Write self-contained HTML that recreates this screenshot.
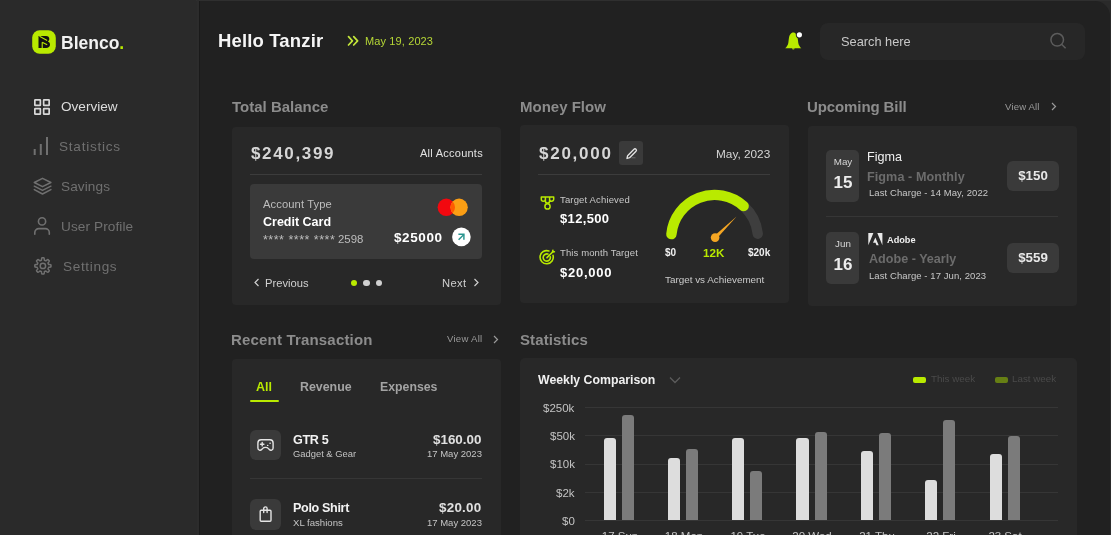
<!DOCTYPE html>
<html><head><meta charset="utf-8"><style>
*{margin:0;padding:0;box-sizing:border-box}
html,body{width:1111px;height:535px;overflow:hidden;background:#2a2a2a;font-family:"Liberation Sans",sans-serif}
.t{position:absolute;line-height:1;white-space:nowrap;will-change:transform}
.r{position:absolute}
.s{position:absolute;overflow:visible}
</style></head><body>
<div class="r" style="left:196px;top:0px;width:915px;height:1.2px;background:#2f2f2f;border-radius:0px;"></div>
<div class="r" style="left:197px;top:0px;width:2px;height:535px;background:#2c2c2c;border-radius:0px;"></div>
<div class="r" style="left:199px;top:1.2px;width:911px;height:540px;background:#212121;border-radius:0px;border-top-right-radius:15px;border-left:1px solid #1a1a1a;box-sizing:border-box"></div>
<svg class="s" style="left:32px;top:30px" width="24" height="24" viewBox="0 0 24 24"><rect x=".2" y=".2" width="23.6" height="23.6" rx="7.5" fill="#b9ea00"/><path d="M6.5 6H14C16.3 6 17.3 7.3 17.3 9C17.3 10.2 16.7 11 15.8 11.4C17.1 11.8 18 12.9 18 14.5C18 16.6 16.5 18 14 18H6.5Z" fill="#121212"/><path d="M7.5 6.3L15.2 10.6M10.2 12.2L15.2 14.8M10.2 12.2V18" stroke="#b9ea00" stroke-width="1.1" fill="none"/></svg>
<div class="t" style="left:61.00px;top:35.00px;font-size:17.5px;color:#f2f2f2;font-weight:700;">Blenco<span style="color:#b9ea00">.</span></div>
<svg class="s" style="left:34px;top:99px" width="16" height="16" viewBox="0 0 16 16"><rect x="0.85" y="0.85" width="5.5" height="5.5" rx="0.4" fill="none" stroke="#d8d8d8" stroke-width="1.7"/><rect x="0.85" y="9.65" width="5.5" height="5.5" rx="0.4" fill="none" stroke="#d8d8d8" stroke-width="1.7"/><rect x="9.65" y="0.85" width="5.5" height="5.5" rx="0.4" fill="none" stroke="#d8d8d8" stroke-width="1.7"/><rect x="9.65" y="9.65" width="5.5" height="5.5" rx="0.4" fill="none" stroke="#d8d8d8" stroke-width="1.7"/></svg>
<div class="t" style="left:61.30px;top:100.00px;font-size:13.6px;color:#dcdcdc;font-weight:400;">Overview</div>
<svg class="s" style="left:33px;top:136px" width="16" height="20" viewBox="0 0 16 20"><path d="M1.7 13v6M7.8 8v11M14 1v18" stroke="#707070" stroke-width="2" stroke-linecap="butt" fill="none"/></svg>
<div class="t" style="left:58.80px;top:140.00px;font-size:13.6px;color:#707070;font-weight:400;letter-spacing:0.75px;">Statistics</div>
<svg class="s" style="left:33px;top:177px" width="19" height="19" viewBox="0 0 19 19"><g fill="none" stroke="#707070" stroke-width="1.5" stroke-linejoin="round" stroke-linecap="round"><path d="M9.5 1.3L17.9 5.5 9.5 9.7 1.3 5.5z"/><path d="M1.3 9.2l8.2 4.2 8.4-4.2"/><path d="M1.3 12.6l8.2 4.4 8.4-4.4"/></g></svg>
<div class="t" style="left:61.40px;top:180.00px;font-size:13.6px;color:#707070;font-weight:400;letter-spacing:0.1px;">Savings</div>
<svg class="s" style="left:33px;top:216px" width="18" height="20" viewBox="0 0 18 20"><g fill="none" stroke="#707070" stroke-width="1.6" stroke-linecap="round"><circle cx="9.05" cy="5.4" r="3.6"/><path d="M1.8 18.3V16.6a4 4 0 0 1 4-4h6.5a4 4 0 0 1 4 4V18.3"/></g></svg>
<div class="t" style="left:60.70px;top:220.00px;font-size:13.6px;color:#707070;font-weight:400;letter-spacing:0.1px;">User Profile</div>
<svg class="s" style="left:33px;top:256px" width="20" height="20" viewBox="0 0 20 20"><g fill="none" stroke="#707070" stroke-width="1.5" stroke-linejoin="round"><path d="M9.90 1.80 L10.15 1.80 L10.41 1.82 L10.66 1.84 L10.92 1.86 L11.11 2.26 L11.23 2.92 L11.31 3.58 L11.36 4.21 L11.52 4.33 L11.69 4.38 L11.86 4.44 L12.04 4.51 L12.20 4.58 L12.37 4.65 L12.53 4.73 L12.69 4.82 L12.89 4.85 L13.37 4.43 L13.90 4.02 L14.44 3.64 L14.86 3.50 L15.06 3.66 L15.26 3.82 L15.44 4.00 L15.63 4.17 L15.80 4.36 L15.98 4.54 L16.14 4.74 L16.30 4.94 L16.16 5.36 L15.78 5.90 L15.37 6.43 L14.95 6.91 L14.98 7.11 L15.07 7.27 L15.15 7.43 L15.22 7.60 L15.29 7.76 L15.36 7.94 L15.42 8.11 L15.47 8.28 L15.59 8.44 L16.22 8.49 L16.88 8.57 L17.54 8.69 L17.94 8.88 L17.96 9.14 L17.98 9.39 L18.00 9.65 L18.00 9.90 L18.00 10.15 L17.98 10.41 L17.96 10.66 L17.94 10.92 L17.54 11.11 L16.88 11.23 L16.22 11.31 L15.59 11.36 L15.47 11.52 L15.42 11.69 L15.36 11.86 L15.29 12.04 L15.22 12.20 L15.15 12.37 L15.07 12.53 L14.98 12.69 L14.95 12.89 L15.37 13.37 L15.78 13.90 L16.16 14.44 L16.30 14.86 L16.14 15.06 L15.98 15.26 L15.80 15.44 L15.63 15.63 L15.44 15.80 L15.26 15.98 L15.06 16.14 L14.86 16.30 L14.44 16.16 L13.90 15.78 L13.37 15.37 L12.89 14.95 L12.69 14.98 L12.53 15.07 L12.37 15.15 L12.20 15.22 L12.04 15.29 L11.86 15.36 L11.69 15.42 L11.52 15.47 L11.36 15.59 L11.31 16.22 L11.23 16.88 L11.11 17.54 L10.92 17.94 L10.66 17.96 L10.41 17.98 L10.15 18.00 L9.90 18.00 L9.65 18.00 L9.39 17.98 L9.14 17.96 L8.88 17.94 L8.69 17.54 L8.57 16.88 L8.49 16.22 L8.44 15.59 L8.28 15.47 L8.11 15.42 L7.94 15.36 L7.76 15.29 L7.60 15.22 L7.43 15.15 L7.27 15.07 L7.11 14.98 L6.91 14.95 L6.43 15.37 L5.90 15.78 L5.36 16.16 L4.94 16.30 L4.74 16.14 L4.54 15.98 L4.36 15.80 L4.17 15.63 L4.00 15.44 L3.82 15.26 L3.66 15.06 L3.50 14.86 L3.64 14.44 L4.02 13.90 L4.43 13.37 L4.85 12.89 L4.82 12.69 L4.73 12.53 L4.65 12.37 L4.58 12.20 L4.51 12.04 L4.44 11.86 L4.38 11.69 L4.33 11.52 L4.21 11.36 L3.58 11.31 L2.92 11.23 L2.26 11.11 L1.86 10.92 L1.84 10.66 L1.82 10.41 L1.80 10.15 L1.80 9.90 L1.80 9.65 L1.82 9.39 L1.84 9.14 L1.86 8.88 L2.26 8.69 L2.92 8.57 L3.58 8.49 L4.21 8.44 L4.33 8.28 L4.38 8.11 L4.44 7.94 L4.51 7.76 L4.58 7.60 L4.65 7.43 L4.73 7.27 L4.82 7.11 L4.85 6.91 L4.43 6.43 L4.02 5.90 L3.64 5.36 L3.50 4.94 L3.66 4.74 L3.82 4.54 L4.00 4.36 L4.17 4.17 L4.36 4.00 L4.54 3.82 L4.74 3.66 L4.94 3.50 L5.36 3.64 L5.90 4.02 L6.43 4.43 L6.91 4.85 L7.11 4.82 L7.27 4.73 L7.43 4.65 L7.60 4.58 L7.76 4.51 L7.94 4.44 L8.11 4.38 L8.28 4.33 L8.44 4.21 L8.49 3.58 L8.57 2.92 L8.69 2.26 L8.88 1.86 L9.14 1.84 L9.39 1.82 L9.65 1.80Z"/><circle cx="9.9" cy="9.9" r="2.7"/></g></svg>
<div class="t" style="left:62.90px;top:260.00px;font-size:13.6px;color:#707070;font-weight:400;letter-spacing:0.65px;">Settings</div>
<div class="t" style="left:217.50px;top:32.00px;font-size:18.5px;color:#f5f5f5;font-weight:700;letter-spacing:0.15px;">Hello Tanzir</div>
<svg class="s" style="left:347px;top:35px" width="13" height="12" viewBox="0 0 13 12"><g fill="none" stroke="#c3e63a" stroke-width="1.7" stroke-linecap="round" stroke-linejoin="round"><path d="M1.5 1.6L5.4 5.8 1.5 10"/><path d="M6.7 1.6L10.6 5.8 6.7 10"/></g></svg>
<div class="t" style="left:364.60px;top:36.00px;font-size:11px;color:#b5d636;font-weight:400;letter-spacing:0.12px;">May 19, 2023</div>
<svg class="s" style="left:784px;top:30px" width="20" height="20" viewBox="0 0 20 20"><path d="M9.3 2.4C7 2.4 5.3 4.8 4.9 8.3L4.3 13C4 15.1 2.7 16.8 1.2 18.3H17.3C15.8 16.8 14.6 15.1 14.3 13L13.7 8.3C13.3 4.8 11.6 2.4 9.3 2.4Z" fill="#b9ea00"/><path d="M8 18.3a1.3 1.3 0 0 0 2.6 0z" fill="#b9ea00"/><circle cx="15.4" cy="4.8" r="3.6" fill="#212121"/><circle cx="15.4" cy="4.8" r="2.6" fill="#fff"/></svg>
<div class="r" style="left:820px;top:23px;width:265px;height:36.5px;background:#272727;border-radius:8px;"></div>
<div class="t" style="left:841.00px;top:36.00px;font-size:12.8px;color:#c8c8c8;font-weight:400;">Search here</div>
<svg class="s" style="left:1048px;top:31px" width="20" height="20" viewBox="0 0 20 20"><g fill="none" stroke="#5c5c5c" stroke-width="1.5"><circle cx="9.2" cy="8.8" r="6.3"/><path d="M13.8 13.5l3.8 3.8"/></g></svg>
<div class="t" style="left:232.00px;top:99.00px;font-size:15px;color:#8c8c8c;font-weight:700;">Total Balance</div>
<div class="t" style="left:520.00px;top:99.00px;font-size:15px;color:#8c8c8c;font-weight:700;">Money Flow</div>
<div class="t" style="left:807.00px;top:99.00px;font-size:15px;color:#8c8c8c;font-weight:700;letter-spacing:-0.1px;">Upcoming Bill</div>
<div class="t" style="right:71.00px;top:102.00px;font-size:9.6px;color:#9a9a9a;font-weight:400;letter-spacing:0.15px;">View All</div>
<svg class="s" style="left:1050px;top:102px" width="8" height="9" viewBox="0 0 8 9"><path d="M2 1l3.5 3.5L2 8" fill="none" stroke="#9a9a9a" stroke-width="1.2"/></svg>
<div class="t" style="left:231.00px;top:332.00px;font-size:15px;color:#8c8c8c;font-weight:700;letter-spacing:0.18px;">Recent Transaction</div>
<div class="t" style="right:629.00px;top:334.00px;font-size:9.6px;color:#9a9a9a;font-weight:400;letter-spacing:0.25px;">View All</div>
<svg class="s" style="left:491.5px;top:335px" width="8" height="9" viewBox="0 0 8 9"><path d="M2 1l3.5 3.5L2 8" fill="none" stroke="#9a9a9a" stroke-width="1.2"/></svg>
<div class="t" style="left:520.00px;top:332.00px;font-size:15px;color:#8c8c8c;font-weight:700;letter-spacing:0.12px;">Statistics</div>
<div class="r" style="left:232px;top:126.5px;width:269px;height:178.5px;background:#282828;border-radius:4px;"></div>
<div class="r" style="left:520px;top:125.2px;width:269px;height:178px;background:#282828;border-radius:4px;"></div>
<div class="r" style="left:808px;top:125.5px;width:269px;height:180px;background:#282828;border-radius:4px;"></div>
<div class="r" style="left:232px;top:358.8px;width:269px;height:200px;background:#282828;border-radius:4px;"></div>
<div class="r" style="left:520px;top:358.2px;width:557px;height:200px;background:#282828;border-radius:5px;"></div>
<div class="t" style="left:250.50px;top:145.00px;font-size:17px;color:#d6d6d6;font-weight:700;letter-spacing:1.65px;">$240,399</div>
<div class="t" style="right:628.50px;top:148.00px;font-size:11px;color:#e2e2e2;font-weight:400;letter-spacing:0.25px;">All Accounts</div>
<div class="r" style="left:250px;top:174px;width:232px;height:1px;background:#3c3c3c;border-radius:0px;"></div>
<div class="r" style="left:250px;top:184px;width:232px;height:75px;background:#3a3a3a;border-radius:4px;"></div>
<div class="t" style="left:262.80px;top:199.00px;font-size:11.2px;color:#bdbdbd;font-weight:400;letter-spacing:0.1px;">Account Type</div>
<div class="t" style="left:262.80px;top:216.00px;font-size:12.5px;color:#ffffff;font-weight:700;">Credit Card</div>
<div class="t" style="left:262.80px;top:234.00px;font-size:12.5px;color:#bdbdbd;font-weight:400;letter-spacing:0.5px;">**** **** ****</div>
<div class="t" style="left:338.40px;top:234.00px;font-size:11.4px;color:#bdbdbd;font-weight:400;">2598</div>
<svg class="s" style="left:436px;top:197px" width="34" height="20" viewBox="0 0 34 20"><circle cx="10.3" cy="10.3" r="8.7" fill="#f2080f"/><circle cx="23.1" cy="10.3" r="8.7" fill="#fb9e14"/><path d="M16.7 4.4a8.7 8.7 0 0 1 0 11.8a8.7 8.7 0 0 1 0-11.8z" fill="#ff5a00"/></svg>
<div class="t" style="right:668.50px;top:231.00px;font-size:13.5px;color:#ffffff;font-weight:700;letter-spacing:0.6px;">$25000</div>
<svg class="s" style="left:451px;top:227px" width="21" height="21" viewBox="0 0 21 21"><circle cx="10.4" cy="9.9" r="9.3" fill="#fff"/><g fill="none" stroke="#2a958f" stroke-width="1.45" stroke-linecap="butt" stroke-linejoin="miter"><path d="M7.6 12.7L12.9 7.4"/><path d="M7.4 7.3H12.9V12.8"/></g></svg>
<svg class="s" style="left:253px;top:277px" width="8" height="12" viewBox="0 0 8 12"><path d="M5.5 2L2 5.5 5.5 9" fill="none" stroke="#cfcfcf" stroke-width="1.2"/></svg>
<div class="t" style="left:264.60px;top:278.00px;font-size:11.2px;color:#d0d0d0;font-weight:400;">Previous</div>
<div class="r" style="left:350.8px;top:279.6px;width:6.6px;height:6.6px;border-radius:50%;background:#b9ea00"></div>
<div class="r" style="left:363.2px;top:279.6px;width:6.6px;height:6.6px;border-radius:50%;background:#d0d0d0"></div>
<div class="r" style="left:375.6px;top:279.6px;width:6.6px;height:6.6px;border-radius:50%;background:#d0d0d0"></div>
<div class="t" style="right:645.00px;top:278.00px;font-size:11.2px;color:#d0d0d0;font-weight:400;letter-spacing:0.35px;">Next</div>
<svg class="s" style="left:472px;top:277px" width="8" height="12" viewBox="0 0 8 12"><path d="M2.5 2L6 5.5 2.5 9" fill="none" stroke="#cfcfcf" stroke-width="1.2"/></svg>
<div class="t" style="left:538.60px;top:145.00px;font-size:17px;color:#d6d6d6;font-weight:700;letter-spacing:1.75px;">$20,000</div>
<div class="r" style="left:619px;top:141px;width:24px;height:24px;background:#3a3a3a;border-radius:3px;"></div>
<svg class="s" style="left:618.5px;top:141.8px" width="24" height="24" viewBox="0 0 24 24"><g fill="none" stroke="#e6e6e6" stroke-width="1.3" stroke-linejoin="round"><path d="M8 16.5l.6-2.8 6.4-6.4a1.4 1.4 0 0 1 2 2l-6.4 6.4z"/><path d="M12.5 15.8h4" stroke="#6a6a6a" stroke-width="1"/></g></svg>
<div class="t" style="right:340.50px;top:149.00px;font-size:11.8px;color:#d4d4d4;font-weight:400;">May, 2023</div>
<div class="r" style="left:538px;top:174px;width:232px;height:1px;background:#3c3c3c;border-radius:0px;"></div>
<svg class="s" style="left:539px;top:194px" width="17" height="17" viewBox="0 0 17 17"><g fill="none" stroke="#b9ea00" stroke-width="1.5" stroke-linejoin="round" stroke-linecap="round"><path d="M2.3 3H14.7M2.3 3V5.2A2.05 2.05 0 0 0 6.4 5.2V3M6.4 3V7A2.1 2.1 0 0 0 10.6 7V3M10.6 3V5.2A2.05 2.05 0 0 0 14.7 5.2V3"/><circle cx="8.5" cy="12.4" r="2.6"/></g></svg>
<div class="t" style="left:559.90px;top:195.00px;font-size:9.5px;color:#c8c8c8;font-weight:400;letter-spacing:0.15px;">Target Achieved</div>
<div class="t" style="left:559.90px;top:212.00px;font-size:13px;color:#ffffff;font-weight:700;letter-spacing:0.35px;">$12,500</div>
<svg class="s" style="left:539px;top:249px" width="17" height="16" viewBox="0 0 17 16"><g fill="none" stroke="#b9ea00" stroke-width="1.6" stroke-linecap="round"><path d="M14 6.4A6.6 6.6 0 1 1 9.9 2.0"/><path d="M11.3 7.8A3.6 3.6 0 1 1 8.9 5.1"/><path d="M8 8.6L13.6 3"/><path d="M13.6 3l.3-1.8M13.6 3l1.8-.3"/></g></svg>
<div class="t" style="left:559.90px;top:248.00px;font-size:9.5px;color:#c8c8c8;font-weight:400;letter-spacing:0.12px;">This month Target</div>
<div class="t" style="left:559.90px;top:266.00px;font-size:13px;color:#ffffff;font-weight:700;letter-spacing:0.75px;">$20,000</div>
<svg class="s" style="left:660px;top:185px" width="115" height="60" viewBox="0 0 115 60"><path d="M83.64 21.05 A43.4 43.4 0 0 1 97.76 48.76" fill="none" stroke="#3e3e3e" stroke-width="10.4" stroke-linecap="round"/><path d="M11.40 49.14 A43.4 43.4 0 0 1 83.64 21.05" fill="none" stroke="#b9ea00" stroke-width="10.4" stroke-linecap="round"/><path d="M56.36 53.88 L76.60 31.50 L53.84 51.32z" fill="#f5a623"/><circle cx="55.10" cy="52.60" r="4.3" fill="#f5a623"/></svg>
<div class="t" style="left:664.70px;top:248.00px;font-size:10px;color:#f0f0f0;font-weight:700;">$0</div>
<div class="t" style="left:702.70px;top:247.00px;font-size:11.6px;color:#b9ea00;font-weight:700;">12K</div>
<div class="t" style="right:340.50px;top:248.00px;font-size:10px;color:#f0f0f0;font-weight:700;">$20k</div>
<div class="t" style="left:665.30px;top:275.00px;font-size:9.9px;color:#cccccc;font-weight:400;">Target vs Achievement</div>
<div class="r" style="left:826px;top:150px;width:33px;height:51.5px;background:#3a3a3a;border-radius:5px;"></div>
<div class="t" style="left:842.50px;top:157.00px;font-size:9.8px;color:#d6d6d6;font-weight:400;transform:translateX(-50%)">May</div>
<div class="t" style="left:842.50px;top:174.00px;font-size:17px;color:#ececec;font-weight:700;transform:translateX(-50%)">15</div>
<div class="r" style="left:1007px;top:160.5px;width:51.5px;height:30.5px;background:#3a3a3a;border-radius:6px;"></div>
<div class="t" style="left:1032.70px;top:169.00px;font-size:13.3px;color:#e8e8e8;font-weight:700;transform:translateX(-50%)">$150</div>
<div class="r" style="left:826px;top:232px;width:33px;height:51.5px;background:#3a3a3a;border-radius:5px;"></div>
<div class="t" style="left:842.50px;top:239.00px;font-size:9.8px;color:#d6d6d6;font-weight:400;transform:translateX(-50%)">Jun</div>
<div class="t" style="left:842.50px;top:256.00px;font-size:17px;color:#ececec;font-weight:700;transform:translateX(-50%)">16</div>
<div class="r" style="left:1007px;top:242.8px;width:51.5px;height:30.5px;background:#3a3a3a;border-radius:6px;"></div>
<div class="t" style="left:1032.70px;top:251.00px;font-size:13.3px;color:#e8e8e8;font-weight:700;transform:translateX(-50%)">$559</div>
<div class="t" style="left:867.40px;top:151.00px;font-size:12.6px;color:#f0f0f0;font-weight:400;">Figma</div>
<div class="t" style="left:867.30px;top:171.00px;font-size:12.6px;color:#6c6c6c;font-weight:700;letter-spacing:0.08px;">Figma - Monthly</div>
<div class="t" style="left:868.60px;top:188.00px;font-size:9.5px;color:#c8c8c8;font-weight:400;letter-spacing:0.08px;">Last Charge - 14 May, 2022</div>
<div class="r" style="left:826px;top:216px;width:232px;height:1px;background:#363636;border-radius:0px;"></div>
<svg class="s" style="left:868px;top:233.3px" width="15" height="13" viewBox="0 0 15 13"><path d="M0.3 0H5.4L0.3 12.2z M9.3 0h5.1v12.2z" fill="#e8e8e8"/><path d="M7.35 4.4L10.7 12.2H8.5L7.5 9.7H5z" fill="#e8e8e8"/></svg>
<div class="t" style="left:886.60px;top:236.00px;font-size:9.2px;color:#f0f0f0;font-weight:700;">Adobe</div>
<div class="t" style="left:868.60px;top:253.00px;font-size:12.6px;color:#6c6c6c;font-weight:700;">Adobe - Yearly</div>
<div class="t" style="left:868.60px;top:271.00px;font-size:9.5px;color:#c8c8c8;font-weight:400;letter-spacing:0.08px;">Last Charge - 17 Jun, 2023</div>
<div class="t" style="left:256.40px;top:381.00px;font-size:12.5px;color:#b9ea00;font-weight:700;">All</div>
<div class="r" style="left:249.8px;top:399.6px;width:29px;height:2.4px;background:#b9ea00;border-radius:1px;"></div>
<div class="t" style="left:299.70px;top:381.00px;font-size:12.4px;color:#a3a3a3;font-weight:700;">Revenue</div>
<div class="t" style="left:379.70px;top:381.00px;font-size:12.3px;color:#a3a3a3;font-weight:700;">Expenses</div>
<div class="r" style="left:250px;top:430px;width:31px;height:30px;background:#3a3a3a;border-radius:6px;"></div>
<svg class="s" style="left:250px;top:430px" width="31" height="30" viewBox="0 0 31 30"><g fill="none" stroke="#e4e4e4" stroke-width="1.4" stroke-linejoin="round" stroke-linecap="round"><path d="M11 9.7H20C22 9.7 23.1 10.9 23.1 12.9V18C23.1 20.3 20.5 20.8 19.3 19.5L18.5 18.6C17.8 17.8 17 17.4 15.5 17.4C14 17.4 13.2 17.8 12.5 18.6L11.7 19.5C10.5 20.8 7.9 20.3 7.9 18V12.9C7.9 10.9 9 9.7 11 9.7Z"/><path d="M12.2 12.5v3.4M10.5 14.2h3.4"/><path d="M17.6 15.4h.2M20 13.3h.2"/></g></svg>
<div class="t" style="left:293.40px;top:434.00px;font-size:12.6px;color:#f2f2f2;font-weight:700;letter-spacing:-0.35px;">GTR 5</div>
<div class="t" style="left:293.40px;top:449.00px;font-size:9.4px;color:#c4c4c4;font-weight:400;">Gadget &amp; Gear</div>
<div class="t" style="right:629.50px;top:433.00px;font-size:13.4px;color:#e0e0e0;font-weight:700;">$160.00</div>
<div class="t" style="right:629.50px;top:449.00px;font-size:9.5px;color:#c4c4c4;font-weight:400;">17 May 2023</div>
<div class="r" style="left:250px;top:478px;width:232px;height:1px;background:#363636;border-radius:0px;"></div>
<div class="r" style="left:250px;top:499px;width:31px;height:30.5px;background:#3a3a3a;border-radius:6px;"></div>
<svg class="s" style="left:250px;top:499px" width="31" height="31" viewBox="0 0 31 31"><g fill="none" stroke="#e4e4e4" stroke-width="1.4" stroke-linejoin="round" stroke-linecap="round"><rect x="10.2" y="11.3" width="10.8" height="10.9" rx="1"/><path d="M13.7 13.6V9.6a1.7 1.7 0 0 1 3.4 0V13.6"/></g></svg>
<div class="t" style="left:293.40px;top:502.00px;font-size:12.6px;color:#f2f2f2;font-weight:700;letter-spacing:-0.35px;">Polo Shirt</div>
<div class="t" style="left:293.40px;top:518.00px;font-size:9.6px;color:#c4c4c4;font-weight:400;">XL fashions</div>
<div class="t" style="right:629.50px;top:501.00px;font-size:13.4px;color:#e0e0e0;font-weight:700;letter-spacing:0.25px;">$20.00</div>
<div class="t" style="right:629.50px;top:518.00px;font-size:9.5px;color:#c4c4c4;font-weight:400;">17 May 2023</div>
<div class="t" style="left:538.30px;top:374.00px;font-size:12.3px;color:#f0f0f0;font-weight:700;">Weekly Comparison</div>
<svg class="s" style="left:668px;top:375px" width="14" height="10" viewBox="0 0 14 10"><path d="M2 2.5l5 5 5-5" fill="none" stroke="#5c5c5c" stroke-width="1.3"/></svg>
<div class="r" style="left:913px;top:376.5px;width:13px;height:6.5px;background:#b9ea00;border-radius:2px;"></div>
<div class="t" style="left:931.20px;top:374.00px;font-size:9.8px;color:#4a4a4a;font-weight:400;">This week</div>
<div class="r" style="left:995px;top:376.5px;width:13px;height:6.5px;background:#667f14;border-radius:2px;"></div>
<div class="t" style="left:1012.30px;top:374.00px;font-size:9.8px;color:#4a4a4a;font-weight:400;">Last week</div>
<div class="r" style="left:585px;top:407.0px;width:473px;height:1px;background:#363636;border-radius:0px;"></div>
<div class="t" style="right:536.50px;top:403.00px;font-size:11.5px;color:#c4c4c4;font-weight:400;">$250k</div>
<div class="r" style="left:585px;top:435.3px;width:473px;height:1px;background:#363636;border-radius:0px;"></div>
<div class="t" style="right:536.50px;top:431.00px;font-size:11.5px;color:#c4c4c4;font-weight:400;">$50k</div>
<div class="r" style="left:585px;top:463.5px;width:473px;height:1px;background:#363636;border-radius:0px;"></div>
<div class="t" style="right:536.50px;top:459.00px;font-size:11.5px;color:#c4c4c4;font-weight:400;">$10k</div>
<div class="r" style="left:585px;top:491.8px;width:473px;height:1px;background:#363636;border-radius:0px;"></div>
<div class="t" style="right:536.50px;top:488.00px;font-size:11.5px;color:#c4c4c4;font-weight:400;">$2k</div>
<div class="r" style="left:585px;top:520.0px;width:473px;height:1px;background:#363636;border-radius:0px;"></div>
<div class="t" style="right:536.50px;top:516.00px;font-size:11.5px;color:#c4c4c4;font-weight:400;">$0</div>
<div class="r" style="left:604px;top:437.8px;width:12.2px;height:82.19999999999999px;background:#dddddd;border-radius:0px;border-radius:3px 3px 0 0"></div>
<div class="r" style="left:622.2px;top:414.6px;width:12.2px;height:105.39999999999998px;background:#7b7b7b;border-radius:0px;border-radius:3px 3px 0 0"></div>
<div class="t" style="left:619.60px;top:531.00px;font-size:11.5px;color:#c4c4c4;font-weight:400;transform:translateX(-50%)">17 Sun</div>
<div class="r" style="left:668px;top:458px;width:12.2px;height:62px;background:#dddddd;border-radius:0px;border-radius:3px 3px 0 0"></div>
<div class="r" style="left:686.2px;top:449.2px;width:12.2px;height:70.80000000000001px;background:#7b7b7b;border-radius:0px;border-radius:3px 3px 0 0"></div>
<div class="t" style="left:683.60px;top:531.00px;font-size:11.5px;color:#c4c4c4;font-weight:400;transform:translateX(-50%)">18 Mon</div>
<div class="r" style="left:732px;top:437.8px;width:12.2px;height:82.19999999999999px;background:#dddddd;border-radius:0px;border-radius:3px 3px 0 0"></div>
<div class="r" style="left:750.2px;top:470.6px;width:12.2px;height:49.39999999999998px;background:#7b7b7b;border-radius:0px;border-radius:3px 3px 0 0"></div>
<div class="t" style="left:747.60px;top:531.00px;font-size:11.5px;color:#c4c4c4;font-weight:400;transform:translateX(-50%)">19 Tue</div>
<div class="r" style="left:796.4px;top:437.8px;width:12.2px;height:82.19999999999999px;background:#dddddd;border-radius:0px;border-radius:3px 3px 0 0"></div>
<div class="r" style="left:814.6px;top:432.3px;width:12.2px;height:87.69999999999999px;background:#7b7b7b;border-radius:0px;border-radius:3px 3px 0 0"></div>
<div class="t" style="left:812.00px;top:531.00px;font-size:11.5px;color:#c4c4c4;font-weight:400;transform:translateX(-50%)">20 Wed</div>
<div class="r" style="left:861px;top:451.2px;width:12.2px;height:68.80000000000001px;background:#dddddd;border-radius:0px;border-radius:3px 3px 0 0"></div>
<div class="r" style="left:879.2px;top:433px;width:12.2px;height:87px;background:#7b7b7b;border-radius:0px;border-radius:3px 3px 0 0"></div>
<div class="t" style="left:876.60px;top:531.00px;font-size:11.5px;color:#c4c4c4;font-weight:400;transform:translateX(-50%)">21 Thu</div>
<div class="r" style="left:925px;top:479.5px;width:12.2px;height:40.5px;background:#dddddd;border-radius:0px;border-radius:3px 3px 0 0"></div>
<div class="r" style="left:943.2px;top:419.7px;width:12.2px;height:100.30000000000001px;background:#7b7b7b;border-radius:0px;border-radius:3px 3px 0 0"></div>
<div class="t" style="left:940.60px;top:531.00px;font-size:11.5px;color:#c4c4c4;font-weight:400;transform:translateX(-50%)">22 Fri</div>
<div class="r" style="left:989.7px;top:453.5px;width:12.2px;height:66.5px;background:#dddddd;border-radius:0px;border-radius:3px 3px 0 0"></div>
<div class="r" style="left:1007.9000000000001px;top:435.8px;width:12.2px;height:84.19999999999999px;background:#7b7b7b;border-radius:0px;border-radius:3px 3px 0 0"></div>
<div class="t" style="left:1005.30px;top:531.00px;font-size:11.5px;color:#c4c4c4;font-weight:400;transform:translateX(-50%)">23 Sat</div>
</body></html>
